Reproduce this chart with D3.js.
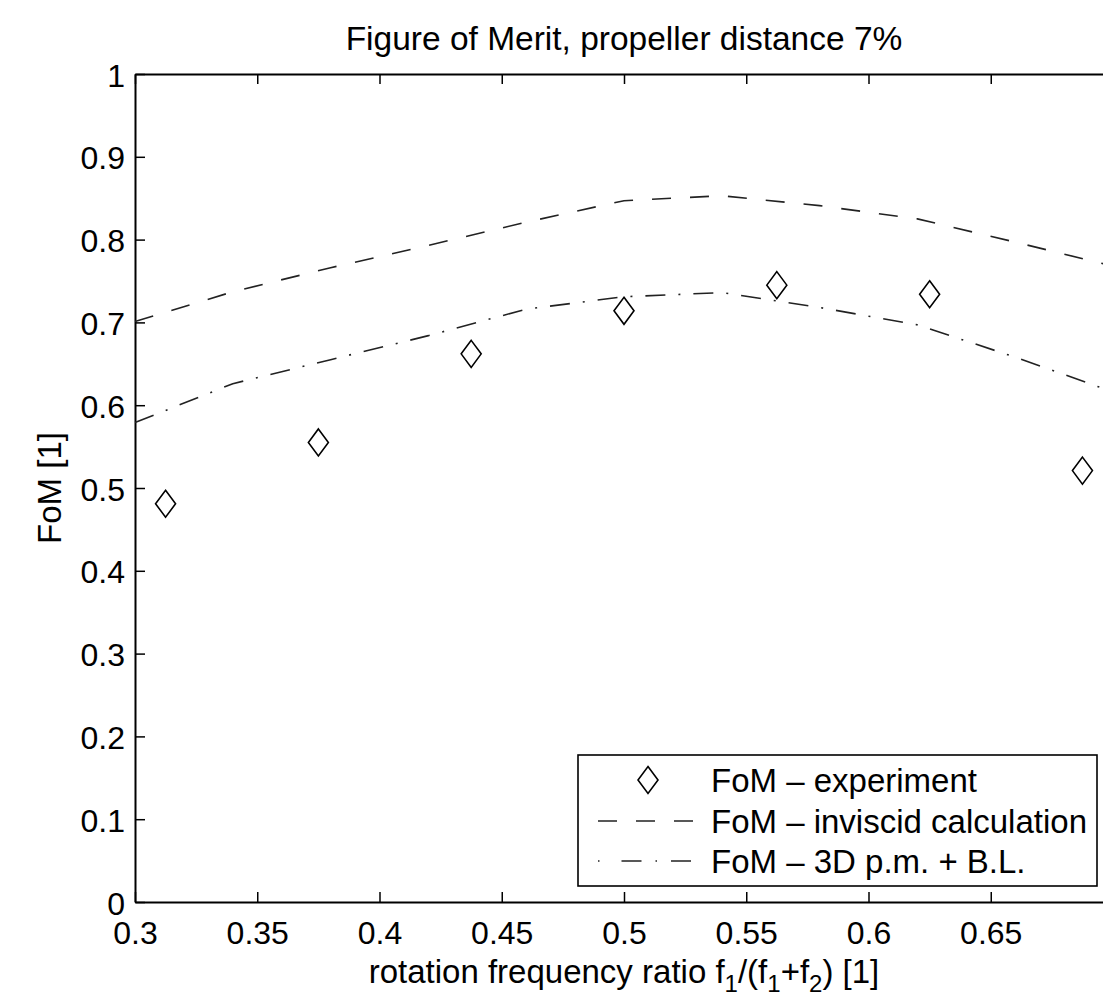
<!DOCTYPE html>
<html lang="en">
<head>
    <meta charset="UTF-8">
    <style>
        body { margin: 0; background: #fff; }
        svg text { font-family: "Liberation Sans", Arial, sans-serif; fill: #000; }
    </style>
</head>
<body>
    <script src="https://d3js.org/d3.v7.min.js"></script>
    <div id="here"></div>

    <script>
        // ratio f1/(f1+f2) for measured points
        const expRatio = [0.3125, 0.375, 0.4375, 0.5, 0.5625, 0.625, 0.6875];
        const expFoM = [0.481, 0.555, 0.662, 0.714, 0.745, 0.734, 0.521];

        // calculated curves
        const calcRatio = [0.30, 0.34, 0.38, 0.42, 0.46, 0.50, 0.54, 0.58, 0.62, 0.66, 0.70];
        const inviscidFoM = [0.701, 0.737, 0.766, 0.793, 0.821, 0.847, 0.853, 0.841, 0.825, 0.797, 0.768];
        const pmBlFoM = [0.579, 0.626, 0.655, 0.684, 0.716, 0.731, 0.736, 0.718, 0.697, 0.658, 0.616];

        const xTicks = [0.3, 0.35, 0.4, 0.45, 0.5, 0.55, 0.6, 0.65];
        const yTicks = [0, 0.1, 0.2, 0.3, 0.4, 0.5, 0.6, 0.7, 0.8, 0.9, 1];

        const legendLabels = ["FoM \u2013 experiment", "FoM \u2013 inviscid calculation", "FoM \u2013 3D p.m. + B.L."];

        const W = 1103, H = 1000;
        const margin = {top: 74, left: 135};
        const width = 978, height = 828;

        const svg = d3.select("#here")
            .append("svg")
                .attr("width", W)
                .attr("height", H);

        const g = svg.append("g")
            .attr("transform", `translate(${margin.left},${margin.top})`);

        const x = d3.scaleLinear().domain([0.3, 0.7]).range([0, width]);
        const y = d3.scaleLinear().domain([0, 1]).range([height, 0]);

        // axes, ticks pointing inward like matlab
        const styleAxis = sel => {
            sel.select(".domain").attr("stroke", "#000").attr("stroke-width", 2);
            sel.selectAll(".tick line").attr("stroke", "#000").attr("stroke-width", 1.5);
        };

        g.append("g")
            .attr("transform", `translate(0,${height})`)
            .call(d3.axisBottom(x).tickValues(xTicks).tickFormat(d => d).tickSize(-10).tickSizeOuter(0))
            .call(styleAxis)
            .selectAll("text")
                .attr("y", 42).attr("dy", null)
                .style("font-size", "32px");

        g.append("g")
            .call(d3.axisTop(x).tickValues(xTicks).tickFormat("").tickSize(-10).tickSizeOuter(0))
            .call(styleAxis);

        g.append("g")
            .call(d3.axisLeft(y).tickValues(yTicks).tickFormat(d => d).tickSize(-10).tickSizeOuter(0))
            .call(styleAxis)
            .selectAll("text")
                .attr("x", -10).attr("dy", "0.38em")
                .style("font-size", "32px");

        g.append("g")
            .attr("transform", `translate(${width},0)`)
            .call(d3.axisRight(y).tickValues(yTicks).tickFormat("").tickSize(-10).tickSizeOuter(0))
            .call(styleAxis);

        // curves
        const line = d3.line().x(d => x(d[0])).y(d => y(d[1]));

        g.append("path")
            .datum(d3.zip(calcRatio, inviscidFoM))
            .attr("d", line)
            .attr("fill", "none")
            .attr("stroke", "#222")
            .attr("stroke-width", 1.6)
            .attr("stroke-dasharray", "19,19");

        g.append("path")
            .datum(d3.zip(calcRatio, pmBlFoM))
            .attr("d", line)
            .attr("fill", "none")
            .attr("stroke", "#222")
            .attr("stroke-width", 1.6)
            .attr("stroke-dasharray", "20,13,2,13");

        const diamond = "M0,-13.5L10,0L0,13.5L-10,0Z";

        g.selectAll(".exp")
            .data(d3.zip(expRatio, expFoM))
            .join("path")
                .attr("class", "exp")
                .attr("transform", d => `translate(${x(d[0])},${y(d[1])})`)
                .attr("d", diamond)
                .attr("fill", "none")
                .attr("stroke", "#000")
                .attr("stroke-width", 1.6);

        // legend
        const lg = svg.append("g").attr("transform", "translate(578,755)");
        lg.append("rect")
            .attr("width", 519).attr("height", 131)
            .attr("fill", "#fff").attr("stroke", "#000").attr("stroke-width", 1.6);

        const rowY = [25, 66, 106];
        lg.append("path")
            .attr("transform", `translate(70,${rowY[0]})`)
            .attr("d", diamond)
            .attr("fill", "none").attr("stroke", "#000").attr("stroke-width", 1.6);
        lg.append("line")
            .attr("x1", 20).attr("x2", 118).attr("y1", rowY[1]).attr("y2", rowY[1])
            .attr("stroke", "#222").attr("stroke-width", 1.6).attr("stroke-dasharray", "19,19");
        lg.append("line")
            .attr("x1", 20).attr("x2", 118).attr("y1", rowY[2]).attr("y2", rowY[2])
            .attr("stroke", "#222").attr("stroke-width", 1.6).attr("stroke-dasharray", "1.5,22,20,14,1.5,14,20,20");

        lg.selectAll(".lt")
            .data(legendLabels)
            .join("text")
                .attr("class", "lt")
                .attr("x", 133)
                .attr("y", (d, i) => rowY[i] + 12)
                .style("font-size", "33px")
                .text(d => d);

        // titles
        svg.append("text")
            .attr("x", margin.left + width / 2).attr("y", 50)
            .attr("text-anchor", "middle")
            .style("font-size", "33.5px")
            .text("Figure of Merit, propeller distance 7%");

        svg.append("text")
            .attr("transform", `translate(61,${margin.top + height / 2}) rotate(-90)`)
            .attr("text-anchor", "middle")
            .style("font-size", "33px")
            .text("FoM [1]");

        const xl = svg.append("text")
            .attr("x", margin.left + width / 2).attr("y", 983)
            .attr("text-anchor", "middle")
            .style("font-size", "33px");
        xl.append("tspan").text("rotation frequency ratio f");
        xl.append("tspan").attr("dy", 9).style("font-size", "24px").text("1");
        xl.append("tspan").attr("dy", -9).text("/(f");
        xl.append("tspan").attr("dy", 9).style("font-size", "24px").text("1");
        xl.append("tspan").attr("dy", -9).text("+f");
        xl.append("tspan").attr("dy", 9).style("font-size", "24px").text("2");
        xl.append("tspan").attr("dy", -9).text(") [1]");
    </script>
</body>
</html>
